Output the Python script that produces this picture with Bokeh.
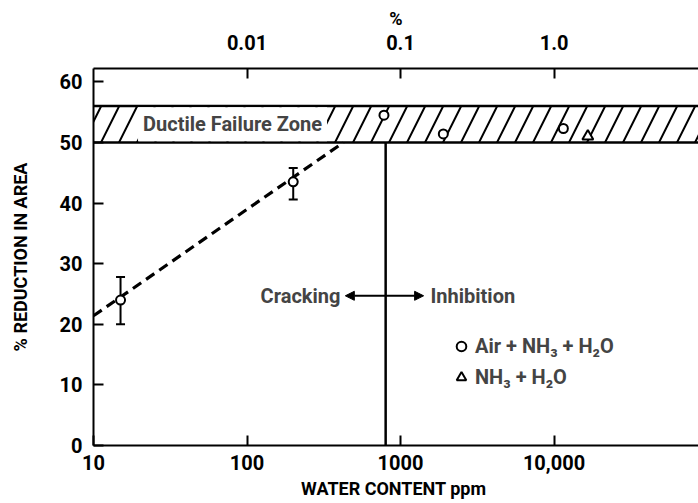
from bokeh.plotting import figure
from bokeh.models import (Range1d, LogAxis, FixedTicker, BoxAnnotation, Span, Label, Arrow,
                          NormalHead, Whisker, TeeHead, ColumnDataSource, Legend, LegendItem)
from bokeh.embed import file_html
from bokeh.resources import INLINE

# ---- data ----
ppm_air = [15, 200, 780, 1900, 11500]
ra_air = [24.0, 43.5, 54.5, 51.4, 52.3]
ppm_nh3 = [16600]
ra_nh3 = [51.0]
err_ppm = [15, 200]
err_lo = [20.0, 40.6]
err_hi = [27.8, 45.8]
trend_ppm = [10, 425]
trend_ra = [21.4, 50.0]
zone_lo, zone_hi = 50, 56
boundary_ppm = 800
arrow_y = 24.7
arrow_left_ppm = 437
arrow_right_ppm = 1414
bottom_ticks = [10, 100, 1000, 10000]
bottom_labels = ["10", "100", "1000", "10,000"]
top_ticks = [100, 1000, 10000]
top_labels = ["0.01", "0.1", "1.0"]
y_ticks = [0, 10, 20, 30, 40, 50, 60]

FONT = "Roboto"
FS = "20px"
FS_AX = "18px"

p = figure(width=698, height=503, x_axis_type="log",
           x_range=Range1d(10, 87300), y_range=Range1d(0, 62.2),
           output_backend="svg", toolbar_location=None,
           min_border_left=93, min_border_right=0, min_border_top=68, min_border_bottom=58)
p.outline_line_color = None
p.grid.visible = False
p.background_fill_color = "white"


def style_axis(ax):
    ax.axis_line_width = 2
    ax.axis_line_color = "black"
    ax.major_tick_line_width = 2
    ax.major_tick_in = 10
    ax.major_tick_out = 0
    ax.minor_tick_line_color = None
    ax.major_label_text_font = FONT
    ax.major_label_text_font_size = FS
    ax.major_label_text_font_style = "bold"
    ax.major_label_text_color = "black"
    ax.axis_label_text_font = FONT
    ax.axis_label_text_font_size = FS_AX
    ax.axis_label_text_font_style = "bold"
    ax.axis_label_text_color = "black"


xa = p.xaxis[0]
xa.ticker = FixedTicker(ticks=bottom_ticks)
xa.major_label_overrides = dict(zip(bottom_ticks, bottom_labels))
xa.axis_label = "WATER CONTENT  ppm"
style_axis(xa)
xa.major_label_standoff = 9
xa.axis_label_standoff = 5

ya = p.yaxis[0]
ya.ticker = FixedTicker(ticks=y_ticks)
ya.axis_label = "% REDUCTION IN AREA"
style_axis(ya)
ya.major_label_standoff = 11
ya.axis_label_standoff = 26

top = LogAxis(ticker=FixedTicker(ticks=top_ticks), axis_label="%")
top.major_label_overrides = dict(zip(top_ticks, top_labels))
style_axis(top)
top.major_label_standoff = 19
top.axis_label_standoff = 3
p.add_layout(top, "above")

# ductile failure zone
zone = BoxAnnotation(bottom=zone_lo, top=zone_hi, fill_color="white", fill_alpha=1,
                     line_color=None,
                     hatch_pattern="/", hatch_scale=36, hatch_weight=2, hatch_color="black",
                     level="underlay")
p.add_layout(zone)
for yv in (zone_lo, zone_hi):
    p.add_layout(Span(location=yv, dimension="width", line_color="black", line_width=2.5))

p.add_layout(Label(x=19.5, y=(zone_lo + zone_hi) / 2, text="Ductile Failure Zone",
                   text_align="left", text_baseline="middle",
                   text_font=FONT, text_font_size=FS, text_font_style="bold",
                   background_fill_color="white", padding=5))

# trend line
p.line(trend_ppm, trend_ra, line_color="black", line_width=3.2, line_dash="10 6")

# boundary vertical line
p.segment(x0=[boundary_ppm], y0=[0], x1=[boundary_ppm], y1=[zone_lo],
          line_color="black", line_width=2.5)

# error bars
esrc = ColumnDataSource(dict(x=err_ppm, lo=err_lo, hi=err_hi))
p.add_layout(Whisker(source=esrc, base="x", lower="lo", upper="hi", dimension="height",
                     line_width=2, line_color="black",
                     lower_head=TeeHead(size=9, line_width=2),
                     upper_head=TeeHead(size=9, line_width=2)))

r_air = p.scatter(ppm_air, ra_air, marker="circle", size=9, fill_color="white",
                  line_color="black", line_width=2)
r_nh3 = p.scatter(ppm_nh3, ra_nh3, marker="triangle", size=11, fill_color="white",
                  line_color="black", line_width=2)

# arrows
for xe in (arrow_left_ppm, arrow_right_ppm):
    p.add_layout(Arrow(end=NormalHead(size=9, fill_color="black", line_color="black"),
                       x_start=boundary_ppm, y_start=arrow_y, x_end=xe, y_end=arrow_y,
                       line_width=2, line_color="black"))

p.add_layout(Label(x=406, y=arrow_y, text="Cracking", text_align="right",
                   text_baseline="middle", text_font=FONT, text_font_size=FS,
                   text_font_style="bold"))
p.add_layout(Label(x=1567, y=arrow_y, text="Inhibition", text_align="left",
                   text_baseline="middle", text_font=FONT, text_font_size=FS,
                   text_font_style="bold"))

legend = Legend(items=[LegendItem(label="Air + NH₃ + H₂O", renderers=[r_air]),
                       LegendItem(label="NH₃ + H₂O", renderers=[r_nh3])],
                location=(356, 56), orientation="vertical",
                border_line_color=None, background_fill_alpha=0,
                glyph_width=24, glyph_height=24, label_standoff=2, spacing=7,
                padding=0, margin=0,
                label_text_font=FONT, label_text_font_size=FS, label_text_font_style="bold")
p.add_layout(legend, "center")

open("out.html", "w").write(file_html(p, INLINE))
